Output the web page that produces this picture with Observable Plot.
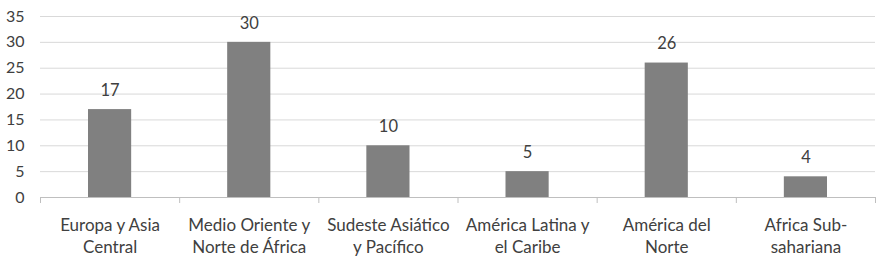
<!DOCTYPE html>
<html>
<head>
<meta charset="utf-8">
<script src="https://cdn.jsdelivr.net/npm/d3@7"></script>
<script src="https://cdn.jsdelivr.net/npm/@observablehq/plot@0.6"></script>
<style>
  html, body { margin: 0; padding: 0; background: #fff; }
  #chart svg { display: block; }
</style>
</head>
<body>
<div id="chart"></div>
<script>
const categories = [
  "Europa y Asia\nCentral",
  "Medio Oriente y\nNorte de África",
  "Sudeste Asiático\ny Pacífico",
  "América Latina y\nel Caribe",
  "América del\nNorte",
  "Africa Sub-\nsahariana"
];
const values = [17, 30, 10, 5, 26, 4];
const yTicks = [0, 5, 10, 15, 20, 25, 30, 35];

const data = categories.map((c, i) => ({i, category: c, value: values[i]}));
const boundaries = d3.range(categories.length + 1);
const centers = categories.map((c, i) => i + 0.5);

const chart = Plot.plot({
  width: 884,
  height: 259,
  marginLeft: 40,
  marginRight: 9,
  marginTop: 16,
  marginBottom: 62,
  style: {fontFamily: "Lato, sans-serif", fontSize: "16px", color: "#404040", background: "#fff"},
  x: {domain: [0, categories.length], axis: null},
  y: {domain: [0, 35], axis: null},
  marks: [
    Plot.gridY(yTicks, {stroke: "#d9d9d9", strokeOpacity: 1}),
    Plot.axisY(yTicks, {tickSize: 0, tickPadding: 16, fontSize: 16, fill: "#404040", label: null}),
    Plot.rectY(data, {x1: "i", x2: d => d.i + 1, y: "value", fill: "#808080", insetLeft: 48, insetRight: 48}),
    Plot.ruleY([0], {stroke: "#bfbfbf"}),
    Plot.axisX(boundaries, {tickSize: 6, stroke: "#bfbfbf", tickFormat: () => "", label: null}),
    Plot.axisX(centers, {tickSize: 0, tickPadding: 18, fontSize: 17, fill: "#404040", lineHeight: 1.3,
      tickFormat: d => categories[Math.floor(d)], label: null}),
    Plot.text(data, {x: d => d.i + 0.5, y: "value", text: d => String(d.value), dy: -19, fontSize: 16.5, fill: "#404040"})
  ]
});
document.getElementById("chart").appendChild(chart);
</script>
</body>
</html>
